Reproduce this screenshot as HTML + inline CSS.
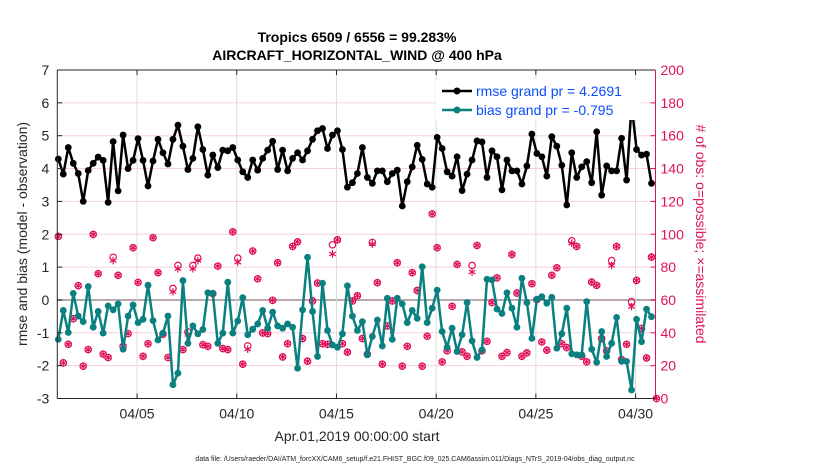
<!DOCTYPE html>
<html><head><meta charset="utf-8">
<style>
body{margin:0;background:#fff;}
svg{display:block;font-family:"Liberation Sans",Arial,sans-serif;}
</style></head>
<body>
<svg id="chart" width="830" height="470" xmlns="http://www.w3.org/2000/svg">
<g id="grid"></g>
<g id="series"></g>
<g id="axes"></g>
<text x="357" y="42" text-anchor="middle" font-size="14" font-weight="bold">Tropics 6509 / 6556 = 99.283%</text>
<text x="357" y="60" text-anchor="middle" font-size="14" font-weight="bold">AIRCRAFT_HORIZONTAL_WIND @ 400 hPa</text>
<text x="357" y="441" text-anchor="middle" font-size="14" fill="#262626">Apr.01,2019 00:00:00 start</text>
<text transform="translate(27,234) rotate(-90)" text-anchor="middle" font-size="14" fill="#262626">rmse and bias (model - observation)</text>
<text transform="translate(696,234) rotate(90)" text-anchor="middle" font-size="14" fill="#e0105a"># of obs: o=possible; ×=assimilated</text>
<text x="415" y="461" text-anchor="middle" font-size="7" fill="#222">data file: /Users/raeder/DAI/ATM_forcXX/CAM6_setup/f.e21.FHIST_BGC.f09_025.CAM6assim.011/Diags_NTrS_2019-04/obs_diag_output.nc</text>
<g>
<rect x="436" y="80" width="205" height="40" fill="#fff"/>
<g>
<line x1="442" y1="91" x2="472" y2="91" stroke="#000" stroke-width="2.5"/>
<circle cx="457" cy="91" r="3.5" fill="#000"/>
<text x="476" y="96" font-size="14" fill="#0a4cff">rmse grand pr = 4.2691</text>
</g>
<g>
<line x1="442" y1="110" x2="472" y2="110" stroke="#0a8080" stroke-width="2.5"/>
<circle cx="457" cy="110" r="3.5" fill="#0a8080"/>
<text x="476" y="115" font-size="14" fill="#0a4cff">bias grand pr = -0.795</text>
</g>
</g>
</svg>
<script>
const xTickLabels = ["04/05","04/10","04/15","04/20","04/25","04/30"];
const xTickDays = [4,9,14,19,24,29];
const leftTicks = [-3,-2,-1,0,1,2,3,4,5,6,7];
const rightTicks = [0,20,40,60,80,100,120,140,160,180,200];
const startDay = 0.05, stepDay = 0.25;
const rmse = [4.29,3.83,4.64,4.16,3.85,3.0,3.94,4.16,4.35,4.25,2.97,4.82,3.32,5.02,4.0,4.25,4.91,4.25,3.47,4.23,4.89,4.48,4.14,4.89,5.32,4.68,3.97,4.31,5.27,4.58,
3.8,4.41,4.03,4.56,4.54,4.64,4.26,3.9,3.73,4.26,3.95,4.31,4.56,4.83,3.97,4.56,3.93,4.31,4.48,4.26,4.54,4.89,5.15,5.22,4.61,5.02,5.15,4.58,3.43,
3.57,3.85,4.64,3.73,3.55,3.93,3.93,3.6,3.85,3.95,2.86,3.6,4.05,4.71,4.28,3.53,3.43,4.95,4.61,3.9,3.77,4.36,3.33,3.83,4.26,4.84,4.81,3.73,4.54,
4.36,3.35,4.26,3.93,3.93,3.53,4.08,5.05,4.46,4.36,3.77,4.97,4.68,4.1,2.89,4.48,3.73,4.05,4.21,3.57,5.12,3.19,4.08,3.93,3.93,4.92,3.65,5.93,4.58,
4.41,4.44,3.55];
const bias = [-1.2,-0.32,-0.99,0.2,-0.49,-0.66,0.41,-0.83,-0.35,-1.01,-0.18,-0.3,-0.12,-1.5,-0.49,-0.15,-0.69,-0.59,0.45,-0.63,-1.22,-1.01,-0.49,-2.58,-2.23,0.59,-1.32,-0.79,-1.03,-0.9,
0.22,0.2,-1.32,-1.01,0.54,-1.01,-0.64,0.07,-1.06,-0.89,-0.73,-0.32,-0.86,-0.37,-0.79,-0.86,-0.73,-0.83,-2.08,-0.3,1.3,-0.35,-1.72,0.51,-0.93,-1.37,-1.44,-1.03,0.43,
-0.49,-0.93,-0.66,-1.67,-1.11,-0.61,-1.4,0.05,-1.2,0.05,-0.12,-0.69,-0.32,-0.56,1.01,-0.69,-0.25,0.3,-0.96,-1.44,-0.86,-1.57,-1.06,-0.08,-1.25,-1.75,-1.52,0.63,0.61,
-0.28,-0.41,0.22,-0.25,-0.83,0.66,-0.08,-1.17,0.02,0.1,-0.1,0.08,-1.47,-1.03,-0.25,-1.64,-1.67,-1.67,-0.05,-1.5,-1.9,-0.96,-1.72,-1.32,-0.53,-1.87,-1.87,-2.74,-0.59,
-1.27,-0.28,-0.51];
const nAssim = [98.7,21.7,33,48.6,68.7,19.7,29.8,99.9,76,27,24.9,84,75,31.8,39.5,91.8,70.7,25.7,33.4,97.9,76.6,39.1,24.9,65,79,29.8,39,79,84,32.8,
31.8,63.8,80.6,30.4,29.8,101.5,83,20.9,30,89.8,72.9,39.9,39.5,59.8,82.7,25.3,33.4,92.6,95.4,36.5,22.7,59.4,70.3,33.4,33,88,96.6,33.4,28.2,
59.4,62.6,36.5,27,94,70.5,20.9,44.2,59.4,82.7,19.7,31.8,76.6,65.8,19.7,37.9,112.4,91.8,22.3,29,56.1,81.6,28.4,25.7,77,93.2,29,34.8,58.4,
73.5,25.7,28,87.7,64.2,25.7,27.8,69.9,60.2,34.4,29.4,75,79.6,33.4,31,94.5,92.6,25.7,22.3,70.9,68.9,36.5,29,81,92.6,23.7,33,56,71.9,
42.6,24.7,86.1,0];
const nPoss = [98.7,21.7,33,48.6,68.7,19.7,29.8,99.9,76,27,24.9,86,75,31.8,39.5,91.8,70.7,25.7,33.4,97.9,76.6,39.1,24.9,67,81,29.8,40.5,81,85.5,32.8,
31.8,63.8,80.6,30.4,29.8,101.5,85.5,20.9,32,89.8,72.9,39.9,39.5,59.8,82.7,25.3,33.4,92.6,95.4,36.5,22.7,59.4,70.3,33.4,33,93.6,96.6,33.4,28.2,
59.4,62.6,36.5,27,95,70.5,20.9,44.2,59.4,82.7,19.7,31.8,76.6,65.8,19.7,37.9,112.4,91.8,22.3,29,56.1,81.6,28.4,25.7,81,93.2,29,34.8,58.4,
73.5,25.7,28,87.7,64.2,25.7,27.8,69.9,60.2,34.4,29.4,75,79.6,33.4,31,96,92.6,25.7,22.3,70.9,68.9,36.5,29,84,92.6,23.7,33,59,71.9,
42.6,24.7,86.1,0];

const NS="http://www.w3.org/2000/svg";
const L=57.3,R=655.5,T=70,B=398.5;
const xOf=d=>L+(d-0)/(30-0)*(R-L);
const yL=v=>B-(v+3)/10*(B-T);
const yR=v=>B-v/200*(B-T);
const tOf=i=>startDay+stepDay*i;
function mk(tag,attrs,parent){const e=document.createElementNS(NS,tag);for(const k in attrs)e.setAttribute(k,attrs[k]);parent.appendChild(e);return e;}
const grid=document.getElementById('grid'),ser=document.getElementById('series'),ax=document.getElementById('axes');
mk('rect',{x:L,y:T,width:R-L,height:B-T,fill:'#fff'},grid);
leftTicks.forEach(v=>{
  const ln=mk('line',{x1:L,x2:R,y1:yL(v),y2:yL(v),stroke:v===0?'#b8a8b0':'#f5d0e0','stroke-width':v===0?2:1},grid);
  
  
  const t=mk('text',{x:L-8,y:yL(v)+5,'text-anchor':'end','font-size':14,fill:'#262626'},ax);
  t.textContent=v;
  
  
  mk('line',{x1:L,x2:L+5,y1:yL(v),y2:yL(v),stroke:'#262626'},ax);
});
xTickDays.forEach((d,k)=>{
  const ln=mk('line',{x1:xOf(d),x2:xOf(d),y1:T,y2:B,stroke:'#dcdcdc','stroke-width':1},grid);
  
  
  mk('line',{x1:xOf(d),x2:xOf(d),y1:B,y2:B-5,stroke:'#262626'},ax);
  mk('line',{x1:xOf(d),x2:xOf(d),y1:T,y2:T+5,stroke:'#262626'},ax);
  const t=mk('text',{x:xOf(d),y:B+20,'text-anchor':'middle','font-size':14,fill:'#262626'},ax);
  t.textContent=xTickLabels[k];
  
  
});
rightTicks.forEach(v=>{
  mk('line',{x1:R,x2:R-5,y1:yR(v),y2:yR(v),stroke:'#e0105a'},ax);
  const t=mk('text',{x:R+5,y:yR(v)+5,'font-size':14,fill:'#e0105a'},ax);
  t.textContent=v;
  
  
});
mk('path',{d:`M${L},${T}H${R}M${L},${B}H${R}M${L},${T}V${B}`,stroke:'#262626',fill:'none','stroke-width':1},ax);
mk('line',{x1:R,x2:R,y1:T,y2:B,stroke:'#e0105a','stroke-width':1},ax);

function star(cx,cy,r,col,p){
  let d='';for(let a=0;a<6;a++){const an=a*Math.PI/3+Math.PI/2;d+=`M${cx},${cy}L${cx+r*Math.cos(an)},${cy+r*Math.sin(an)}`;}
  mk('path',{d:d,stroke:col,'stroke-width':1.2,fill:'none'},p);
}
nPoss.forEach((v,i)=>{
  const c=mk('circle',{cx:xOf(tOf(i)),cy:yR(v),r:3.2,fill:'none',stroke:'#e0105a','stroke-width':1.2},ser);
  
  
});
nAssim.forEach((v,i)=>{
  const g=mk('g',{},ser);
  
  
  star(xOf(tOf(i)),yR(v),3.8,'#e0105a',g);
});
function line(arr,col,name){
  const pts=arr.map((v,i)=>`${xOf(tOf(i)).toFixed(1)},${yL(v).toFixed(1)}`).join(' ');
  const pl=mk('polyline',{points:pts,fill:'none',stroke:col,'stroke-width':2.5,'stroke-linejoin':'round'},ser);
  
  
  arr.forEach((v,i)=>{
    const c=mk('circle',{cx:xOf(tOf(i)),cy:yL(v),r:3.4,fill:col},ser);
    
    
  });
}
line(bias,'#0a8080','bias');
line(rmse,'#000000','rmse');
</script>
</body></html>
